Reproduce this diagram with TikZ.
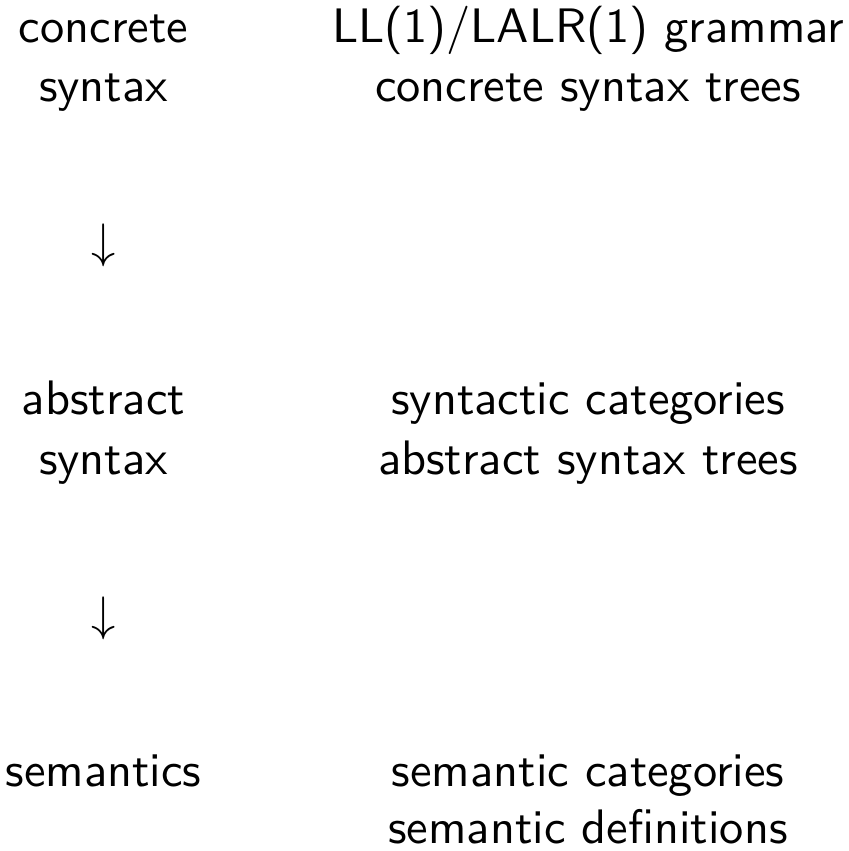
\documentclass[tikz,border=0pt]{standalone}
\usepackage{fontspec}
\begin{document}
\begin{tikzpicture}[x=0.2066pt,y=-0.2066pt,
  every node/.style={inner sep=0pt,outer sep=0pt,font=\sffamily\fontsize{10}{12}\selectfont},
  lbl/.style={anchor=base}]
\useasboundingbox (0,0) rectangle (848,851);
% left column: levels of description, linked by arrows
\node[lbl] (c1) at (103.5,43) {concrete};
\node[lbl] (c2) at (103.5,102) {syntax};
\node[lbl] (a1) at (103.5,258) {$\downarrow$};
\node[lbl] (b1) at (103.5,414) {abstract};
\node[lbl] (b2) at (103.5,474) {syntax};
\node[lbl] (a2) at (103.5,630) {$\downarrow$};
\node[lbl] (s1) at (103.5,786) {semantics};
% right column: what each level consists of
\node[lbl] (r1) at (588,43) {LL(1)/LALR(1) grammar};
\node[lbl] (r2) at (588,102) {concrete syntax trees};
\node[lbl] (r3) at (588,414) {syntactic categories};
\node[lbl] (r4) at (588,474) {abstract syntax trees};
\node[lbl] (r5) at (588,786) {semantic categories};
\node[lbl] (r6) at (588,843) {semantic definitions};
\end{tikzpicture}
\end{document}
